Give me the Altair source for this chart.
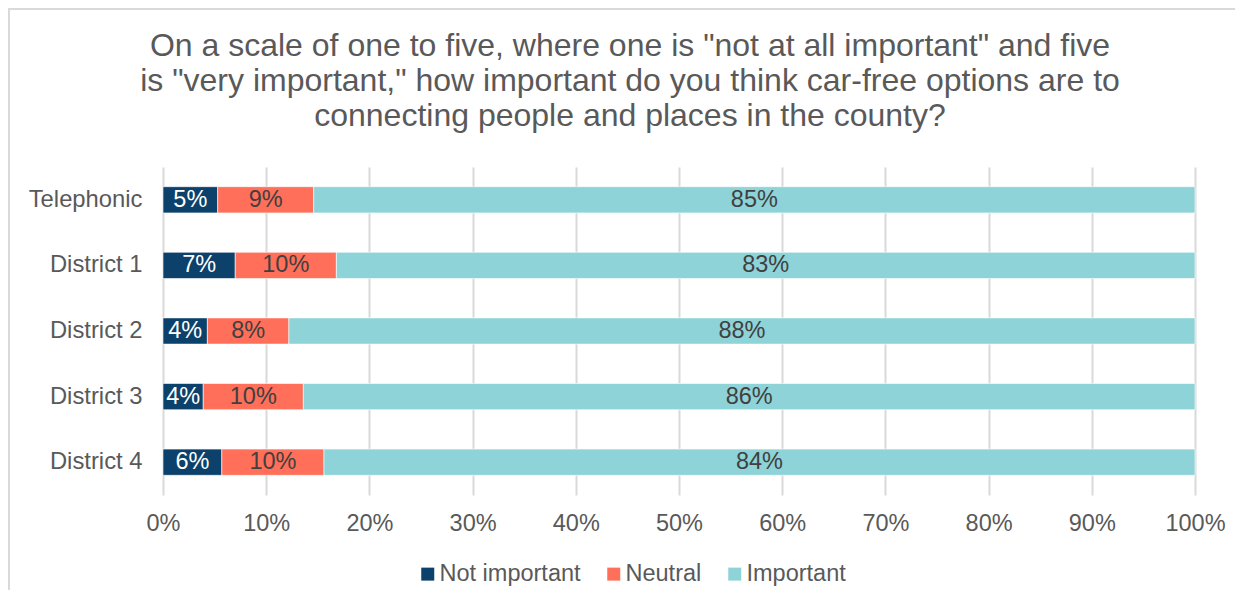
import altair as alt
import pandas as pd

groups = ["Telephonic", "District 1", "District 2", "District 3", "District 4"]
responses = ["Not important", "Neutral", "Important"]
not_important = [5.3, 7.0, 4.3, 3.9, 5.7]
neutral = [9.3, 9.8, 7.9, 9.7, 9.9]
important = [85.4, 83.2, 87.8, 86.4, 84.4]
x_ticks = [0, 0.1, 0.2, 0.3, 0.4, 0.5, 0.6, 0.7, 0.8, 0.9, 1.0]
colors = ["#0b416a", "#ff6f59", "#8dd3d8"]
title_lines = [
    'On a scale of one to five, where one is "not at all important" and five',
    'is "very important," how important do you think car-free options are to',
    'connecting people and places in the county?',
]

FONT = "Liberation Sans"
GRAY = "#595959"

rows = []
for i, g in enumerate(groups):
    for j, (r, vals) in enumerate(zip(responses, [not_important, neutral, important])):
        rows.append({"group": g, "response": r, "order": j, "value": vals[i] / 100})
df = pd.DataFrame(rows)

base = alt.Chart(df)

y_enc = alt.Y(
    "group:N",
    sort=groups,
    title=None,
    scale=alt.Scale(paddingInner=0.6, paddingOuter=0.3),
    axis=alt.Axis(domain=False, ticks=False, labelPadding=21, labelFontSize=23.8,
                  labelColor=GRAY, labelFont=FONT, grid=False),
)

bars = base.mark_bar(stroke="white", strokeWidth=0.6).encode(
    x=alt.X(
        "value:Q",
        stack="zero",
        title=None,
        scale=alt.Scale(domain=[0, 1], nice=False),
        axis=alt.Axis(values=x_ticks, format=".0%", domain=False, ticks=False, grid=True,
                      gridColor="#d9d9d9", gridWidth=2, labelPadding=16, labelFontSize=23.5,
                      labelColor=GRAY, labelFont=FONT, labelFlush=False, labelOverlap=False),
    ),
    y=y_enc,
    color=alt.Color(
        "response:N",
        sort=responses,
        scale=alt.Scale(domain=responses, range=colors),
        legend=alt.Legend(
            title=None, orient="none", direction="horizontal", legendX=253, legendY=395,
            symbolType="square", symbolSize=169, symbolStrokeWidth=0,
            labelFontSize=23.5, labelFont=FONT, labelColor=GRAY, labelOffset=0,
            columnPadding=21, padding=0,
        ),
    ),
    order=alt.Order("order:Q"),
)

labels = base.transform_stack(
    stack="value", groupby=["group"], as_=["v0", "v1"],
    sort=[alt.SortField("order", order="ascending")],
).transform_calculate(
    mid="(datum.v0 + datum.v1) / 2"
).mark_text(fontSize=23.5, font=FONT).encode(
    x=alt.X("mid:Q"),
    y=alt.Y("group:N", sort=groups),
    text=alt.Text("value:Q", format=".0%"),
    color=alt.condition(alt.datum.response == "Not important", alt.value("white"), alt.value("#404040")),
)

border_df = pd.DataFrame({"a": [0]})
border_left = alt.Chart(border_df).mark_rule(color="#d9d9d9", strokeWidth=2).encode(
    x=alt.value(-154), y=alt.value(-159), y2=alt.value(430)
)
border_top = alt.Chart(border_df).mark_rule(color="#d9d9d9", strokeWidth=2).encode(
    x=alt.value(-155), x2=alt.value(1080), y=alt.value(-158)
)

chart = alt.layer(bars, labels, border_left, border_top).properties(
    width=1032,
    height=328,
    background="white",
    padding={"left": 155, "top": 159, "right": 40, "bottom": 95},
    autosize=alt.AutoSizeParams(type="none"),
    title=alt.TitleParams(
        text=title_lines, fontSize=32, font=FONT, fontWeight="normal", color=GRAY,
        lineHeight=35, anchor="middle", frame="group", dx=-49, offset=-126,
    ),
).configure_view(
    stroke="transparent", strokeWidth=0
)

chart.save("out.html", embed_options={"renderer": "svg", "actions": False})
